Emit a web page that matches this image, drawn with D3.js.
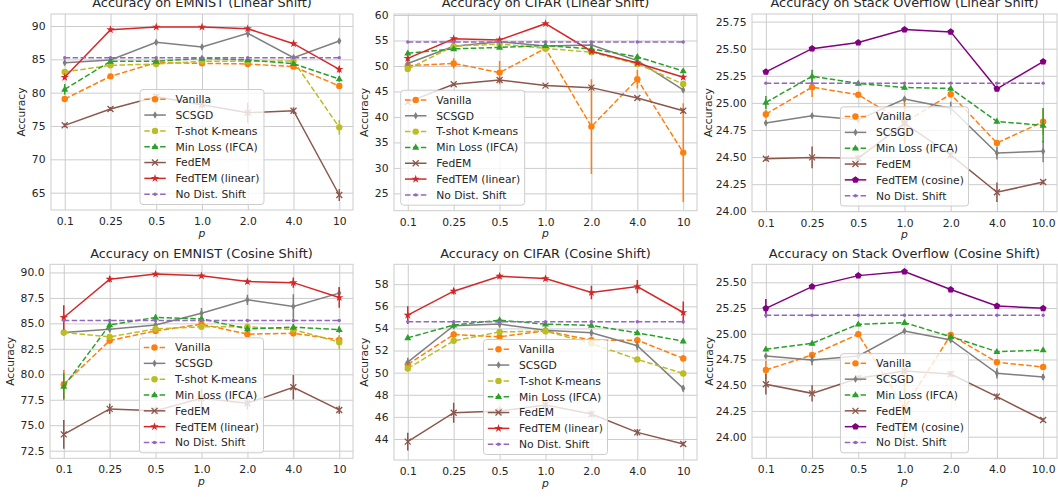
<!DOCTYPE html>
<html>
<head>
<meta charset="utf-8">
<script src="https://cdn.jsdelivr.net/npm/d3@7"></script>
<style>
  body { margin: 0; background: #fff; }
  svg text { font-family: "DejaVu Sans", sans-serif; fill: #262626; }
</style>
</head>
<body>
<svg id="chart" width="1058" height="497"></svg>
<script>
// x categories (equally spaced)
var pLabels = ["0.1", "0.25", "0.5", "1.0", "2.0", "4.0", "10"];
var pLabelsSO = ["0.1", "0.25", "0.5", "1.0", "2.0", "4.0", "10.0"];

var methodsImg = ["Vanilla", "SCSGD", "T-shot K-means", "Min Loss (IFCA)", "FedEM", "FedTEM (linear)", "No Dist. Shift"];
var methodsSO = ["Vanilla", "SCSGD", "Min Loss (IFCA)", "FedEM", "FedTEM (cosine)", "No Dist. Shift"];

// y tick labels
var ticksEmnistLin = [65, 70, 75, 80, 85, 90];
var ticksCifarLin = [25, 30, 35, 40, 45, 50, 55, 60];
var ticksSOLin = [24.00, 24.25, 24.50, 24.75, 25.00, 25.25, 25.50, 25.75];
var ticksEmnistCos = [72.5, 75.0, 77.5, 80.0, 82.5, 85.0, 87.5, 90.0];
var ticksCifarCos = [44, 46, 48, 50, 52, 54, 56, 58];
var ticksSOCos = [24.00, 24.25, 24.50, 24.75, 25.00, 25.25, 25.50];

// EMNIST, linear shift (rows follow methodsImg)
var emnistLinMean = [
  [79.05, 82.45, 84.5, 84.4, 84.3, 83.9, 81.0],
  [84.5, 84.9, 87.55, 86.85, 88.9, 85.25, 87.75],
  [83.1, 84.1, 84.3, 84.7, 84.7, 84.75, 74.8],
  [80.5, 84.7, 84.7, 85.15, 84.9, 84.35, 82.05],
  [75.1, 77.55, 79.4, 78.2, 77.0, 77.3, 64.65],
  [82.3, 89.45, 89.85, 89.85, 89.6, 87.35, 83.5],
  [85.25, 85.25, 85.25, 85.25, 85.25, 85.25, 85.25]
];
var emnistLinErr = [
  [0.4, 0.4, 0.3, 0.3, 0.3, 0.3, 0.4],
  [0.3, 0.3, 0.4, 0.4, 0.6, 0.4, 0.4],
  [0.3, 0.3, 0.3, 0.3, 0.3, 0.3, 1.1],
  [0.8, 0.3, 0.3, 0.3, 0.3, 0.3, 0.4],
  [0.3, 0.3, 0.4, 0.5, 1.5, 0.5, 0.9],
  [0.3, 0.3, 0.2, 0.2, 0.2, 0.3, 0.5],
  [0, 0, 0, 0, 0, 0, 0]
];

// CIFAR, linear shift
var cifarLinMean = [
  [50.05, 50.5, 48.7, 53.45, 38.1, 47.4, 33.0],
  [50.5, 53.85, 54.75, 53.9, 54.1, 51.05, 45.3],
  [49.4, 53.9, 54.3, 53.45, 52.7, 50.4, 46.45],
  [52.5, 53.35, 53.65, 54.0, 53.35, 51.8, 49.0],
  [42.9, 46.4, 47.25, 46.15, 45.75, 43.7, 41.2],
  [51.5, 55.35, 55.1, 58.3, 52.9, 50.6, 47.8],
  [54.7, 54.7, 54.7, 54.7, 54.7, 54.7, 54.7]
];
var cifarLinErr = [
  [0.6, 1.0, 2.3, 0.5, 9.3, 1.8, 9.7],
  [0.4, 0.3, 0.3, 0.3, 0.6, 0.3, 0.5],
  [0.4, 0.3, 0.3, 0.3, 0.3, 0.3, 0.4],
  [0.4, 0.3, 0.3, 0.3, 0.3, 0.4, 0.3],
  [0.3, 0.3, 0.5, 0.3, 0.4, 0.3, 0.5],
  [0.5, 0.3, 0.3, 0.3, 0.4, 0.4, 0.4],
  [0, 0, 0, 0, 0, 0, 0]
];

// Stack Overflow, linear shift (rows follow methodsSO)
var soLinMean = [
  [24.896, 25.145, 25.075, 24.82, 25.08, 24.63, 24.826],
  [24.814, 24.881, 24.844, 25.035, 24.95, 24.537, 24.553],
  [25.004, 25.246, 25.179, 25.142, 25.133, 24.829, 24.792],
  [24.485, 24.497, 24.49, 24.81, 24.52, 24.175, 24.27],
  [25.286, 25.50, 25.557, 25.676, 25.655, 25.13, 25.38],
  [25.182, 25.182, 25.182, 25.182, 25.182, 25.182, 25.182]
];
var soLinErr = [
  [0.04, 0.09, 0.02, 0.2, 0.03, 0.02, 0.12],
  [0.02, 0.02, 0.03, 0.02, 0.06, 0.06, 0.1],
  [0.06, 0.06, 0.02, 0.02, 0.02, 0.02, 0.16],
  [0.02, 0.1, 0.03, 0.03, 0.03, 0.09, 0.02],
  [0.01, 0.01, 0.01, 0.01, 0.01, 0.01, 0.01],
  [0, 0, 0, 0, 0, 0, 0]
];

// EMNIST, cosine shift
var emnistCosMean = [
  [79.02, 83.31, 84.26, 84.92, 83.94, 84.03, 83.38],
  [84.1, 84.43, 84.85, 86.0, 87.31, 86.66, 87.97],
  [84.1, 83.67, 84.46, 84.66, 84.66, 84.4, 83.15],
  [78.8, 84.85, 85.58, 85.44, 84.46, 84.62, 84.39],
  [74.1, 76.6, 76.43, 77.64, 77.15, 78.72, 76.5],
  [85.58, 89.34, 89.84, 89.67, 89.1, 89.0, 87.54],
  [85.28, 85.28, 85.28, 85.28, 85.28, 85.28, 85.28]
];
var emnistCosErr = [
  [1.4, 0.3, 0.3, 0.3, 0.3, 0.3, 0.4],
  [0.3, 0.3, 0.4, 0.5, 0.5, 1.2, 0.6],
  [0.3, 0.3, 0.3, 0.3, 0.3, 0.3, 0.7],
  [1.3, 0.3, 0.3, 0.3, 0.3, 0.3, 0.3],
  [1.4, 0.5, 0.4, 0.9, 0.6, 1.2, 0.4],
  [1.2, 0.3, 0.2, 0.2, 0.2, 0.5, 1.0],
  [0, 0, 0, 0, 0, 0, 0]
];

// CIFAR, cosine shift
var cifarCosMean = [
  [50.74, 53.45, 53.24, 53.78, 52.94, 52.94, 51.29],
  [50.95, 54.24, 54.39, 53.84, 53.6, 52.43, 48.58],
  [50.38, 52.88, 53.69, 53.75, 52.64, 51.2, 49.93],
  [53.15, 54.3, 54.75, 54.39, 54.27, 53.6, 52.85],
  [43.76, 46.38, 46.53, 47.07, 46.26, 44.6, 43.55],
  [55.2, 57.37, 58.72, 58.51, 57.25, 57.79, 55.44],
  [54.6, 54.6, 54.6, 54.6, 54.6, 54.6, 54.6]
];
var cifarCosErr = [
  [0.3, 0.3, 0.3, 0.3, 0.3, 0.3, 0.3],
  [0.4, 0.3, 0.3, 0.3, 0.3, 0.4, 0.3],
  [0.2, 0.2, 0.2, 0.2, 0.2, 0.2, 0.2],
  [0.2, 0.2, 0.2, 0.2, 0.2, 0.2, 0.2],
  [0.8, 0.9, 0.4, 0.4, 0.3, 0.3, 0.2],
  [0.8, 0.3, 0.2, 0.2, 0.6, 0.6, 1.0],
  [0, 0, 0, 0, 0, 0, 0]
];

// Stack Overflow, cosine shift
var soCosMean = [
  [24.648, 24.794, 24.995, 24.28, 24.988, 24.723, 24.677],
  [24.784, 24.745, 24.784, 25.027, 24.94, 24.616, 24.58],
  [24.849, 24.907, 25.092, 25.108, 24.972, 24.826, 24.842],
  [24.509, 24.421, 24.567, 24.638, 24.609, 24.389, 24.162],
  [25.247, 25.458, 25.565, 25.604, 25.43, 25.27, 25.247],
  [25.18, 25.18, 25.18, 25.18, 25.18, 25.18, 25.18]
];
var soCosErr = [
  [0.09, 0.03, 0.02, 0.4, 0.02, 0.02, 0.02],
  [0.02, 0.05, 0.02, 0.02, 0.02, 0.05, 0.03],
  [0.02, 0.02, 0.02, 0.02, 0.02, 0.02, 0.02],
  [0.1, 0.08, 0.03, 0.03, 0.03, 0.03, 0.02],
  [0.09, 0.01, 0.01, 0.01, 0.01, 0.01, 0.01],
  [0, 0, 0, 0, 0, 0, 0]
];

var STYLE = {
  "Vanilla":         { color: "#ff7f0e", dash: true,  marker: "circle" },
  "SCSGD":           { color: "#7f7f7f", dash: false, marker: "thin_diamond" },
  "T-shot K-means":  { color: "#bcbd22", dash: true,  marker: "circle" },
  "Min Loss (IFCA)": { color: "#2ca02c", dash: true,  marker: "triangle" },
  "FedEM":           { color: "#8c564b", dash: false, marker: "x" },
  "FedTEM (linear)": { color: "#d62728", dash: false, marker: "star" },
  "FedTEM (cosine)": { color: "#800080", dash: false, marker: "pentagon" },
  "No Dist. Shift":  { color: "#9467bd", dash: true,  marker: "point" }
};

var FS = 10.75;

var panels = [
  { title: "Accuracy on EMNIST (Linear Shift)", methods: methodsImg, mean: emnistLinMean, err: emnistLinErr,
    xl: pLabels, yt: ticksEmnistLin, fmt: d3.format("d"), left: 51, right: 353, top: 14, bottom: 210,
    dom: [62.4, 91.8], legend: "center", ylab: 26 },
  { title: "Accuracy on CIFAR (Linear Shift)", methods: methodsImg, mean: cifarLinMean, err: cifarLinErr,
    xl: pLabels, yt: ticksCifarLin, fmt: d3.format("d"), left: 394, right: 697, top: 14, bottom: 210.7,
    dom: [21.6, 60.2], legend: "left", ylab: 26 },
  { title: "Accuracy on Stack Overflow (Linear Shift)", methods: methodsSO, mean: soLinMean, err: soLinErr,
    xl: pLabelsSO, yt: ticksSOLin, fmt: d3.format(".2f"), left: 752, right: 1057, top: 14, bottom: 211.5,
    dom: [23.998, 25.82], legend: "center", ylab: 40.5 },
  { title: "Accuracy on EMNIST (Cosine Shift)", methods: methodsImg, mean: emnistCosMean, err: emnistCosErr,
    xl: pLabels, yt: ticksEmnistCos, fmt: d3.format(".1f"), left: 50, right: 353, top: 264.3, bottom: 458.3,
    dom: [71.75, 90.8], legend: "center", ylab: 36 },
  { title: "Accuracy on CIFAR (Cosine Shift)", methods: methodsImg, mean: cifarCosMean, err: cifarCosErr,
    xl: pLabels, yt: ticksCifarCos, fmt: d3.format("d"), left: 394, right: 697, top: 264.3, bottom: 460,
    dom: [42.1, 59.8], legend: "center", ylab: 26 },
  { title: "Accuracy on Stack Overflow (Cosine Shift)", methods: methodsSO, mean: soCosMean, err: soCosErr,
    xl: pLabelsSO, yt: ticksSOCos, fmt: d3.format(".2f"), left: 752, right: 1057, top: 264.3, bottom: 458.3,
    dom: [23.79, 25.675], legend: "center", ylab: 39 }
];

function pentagon(r) {
  var pts = d3.range(5).map(function(k) {
    var a = -Math.PI / 2 + k * 2 * Math.PI / 5;
    return [r * Math.cos(a), r * Math.sin(a)];
  });
  return "M" + pts.join("L") + "Z";
}

function drawMarker(sel, type, color) {
  if (type === "circle") {
    sel.append("circle").attr("r", 3.2).attr("fill", color);
  } else if (type === "point") {
    sel.append("circle").attr("r", 1.7).attr("fill", color);
  } else if (type === "triangle") {
    sel.append("path").attr("d", "M0,-3.8L3.5,2.3L-3.5,2.3Z").attr("fill", color);
  } else if (type === "thin_diamond") {
    sel.append("path").attr("d", "M0,-3.8L2.1,0L0,3.8L-2.1,0Z").attr("fill", color);
  } else if (type === "x") {
    sel.append("path").attr("d", "M-3,-3L3,3M-3,3L3,-3")
      .attr("stroke", color).attr("stroke-width", 1.3).attr("fill", "none");
  } else if (type === "star") {
    sel.append("path").attr("d", d3.symbol(d3.symbolStar, 22)()).attr("fill", color);
  } else if (type === "pentagon") {
    sel.append("path").attr("d", pentagon(3.6)).attr("fill", color);
  }
}

var svg = d3.select("#chart");
var defs = svg.append("defs");

panels.forEach(function(p, pi) {
  var w = p.right - p.left, h = p.bottom - p.top;
  var x = d3.scaleLinear().domain([-0.3, 6.3]).range([p.left, p.right]);
  var y = d3.scaleLinear().domain(p.dom).range([p.bottom, p.top]);
  var g = svg.append("g");

  // grid and tick labels
  var ya = g.append("g").attr("transform", "translate(" + p.left + ",0)")
    .call(d3.axisLeft(y).tickValues(p.yt).tickFormat(p.fmt)
      .tickSizeInner(-w).tickSizeOuter(0).tickPadding(5.5));
  var xa = g.append("g").attr("transform", "translate(0," + p.bottom + ")")
    .call(d3.axisBottom(x).tickValues(d3.range(7)).tickFormat(function(i) { return p.xl[i]; })
      .tickSizeInner(-h).tickSizeOuter(0).tickPadding(7.5));
  [ya, xa].forEach(function(a) {
    a.attr("font-family", null).attr("font-size", null);
    a.select(".domain").remove();
    a.selectAll("line").attr("stroke", "#cccccc").attr("stroke-width", 1);
    a.selectAll("text").style("font-size", FS + "px").attr("fill", "#262626");
  });

  g.append("rect").attr("x", p.left).attr("y", p.top).attr("width", w).attr("height", h)
    .attr("fill", "none").attr("stroke", "#cccccc").attr("stroke-width", 1);

  defs.append("clipPath").attr("id", "clip" + pi)
    .append("rect").attr("x", p.left).attr("y", p.top).attr("width", w).attr("height", h);

  var plot = g.append("g").attr("clip-path", "url(#clip" + pi + ")");
  var line = d3.line().x(function(d, i) { return x(i); }).y(function(d) { return y(d); });

  p.methods.forEach(function(m, si) {
    var st = STYLE[m];
    var vals = p.mean[si], errs = p.err[si];
    var sg = plot.append("g");
    sg.selectAll("line.err").data(vals).enter().append("line")
      .attr("x1", function(d, i) { return x(i); })
      .attr("x2", function(d, i) { return x(i); })
      .attr("y1", function(d, i) { return y(d - errs[i]); })
      .attr("y2", function(d, i) { return y(d + errs[i]); })
      .attr("stroke", st.color).attr("stroke-width", 1.5);
    sg.append("path").datum(vals).attr("d", line)
      .attr("fill", "none").attr("stroke", st.color).attr("stroke-width", 1.5)
      .attr("stroke-dasharray", st.dash ? "5.5,2.4" : null);
    sg.selectAll("g.mk").data(vals).enter().append("g")
      .attr("transform", function(d, i) { return "translate(" + x(i) + "," + y(d) + ")"; })
      .each(function() { drawMarker(d3.select(this), st.marker, st.color); });
  });

  // title and axis labels
  g.append("text").attr("x", (p.left + p.right) / 2).attr("y", p.top - 6.6)
    .attr("text-anchor", "middle").style("font-size", (FS * 1.2) + "px").text(p.title);
  g.append("text").attr("x", (p.left + p.right) / 2).attr("y", p.bottom + 26.5)
    .attr("text-anchor", "middle").style("font-size", FS + "px").style("font-style", "italic").text("p");
  g.append("text").attr("transform", "translate(" + (p.left - p.ylab) + "," + (p.top + h / 2) + ") rotate(-90)")
    .attr("text-anchor", "middle").style("font-size", FS + "px").text("Accuracy");

  // legend
  var rowH = 15.83, n = p.methods.length;
  var lg = g.append("g");
  var box = lg.append("rect").attr("fill", "rgba(255,255,255,0.8)")
    .attr("stroke", "#cccccc").attr("stroke-width", 1).attr("rx", 3);
  var maxW = 0;
  p.methods.forEach(function(m, i) {
    var st = STYLE[m];
    var cy = 9.7 + i * rowH;
    lg.append("line").attr("x1", 4.3).attr("x2", 25.8).attr("y1", cy).attr("y2", cy)
      .attr("stroke", st.color).attr("stroke-width", 1.5)
      .attr("stroke-dasharray", st.dash ? "5.5,2.4" : null);
    drawMarker(lg.append("g").attr("transform", "translate(15," + cy + ")"), st.marker, st.color);
    var t = lg.append("text").attr("x", 35.5).attr("y", cy).attr("dy", "0.36em")
      .style("font-size", FS + "px").text(m);
    maxW = Math.max(maxW, t.node().getComputedTextLength());
  });
  var bw = 35.5 + maxW + 4.6, bh = 20 + (n - 1) * rowH;
  box.attr("width", bw).attr("height", bh);
  var lx = p.legend === "left" ? p.left + 6.7 : (p.left + p.right) / 2 - bw / 2;
  var ly = p.bottom - 5.5 - bh;
  lg.attr("transform", "translate(" + lx + "," + ly + ")");
});
</script>
</body>
</html>
